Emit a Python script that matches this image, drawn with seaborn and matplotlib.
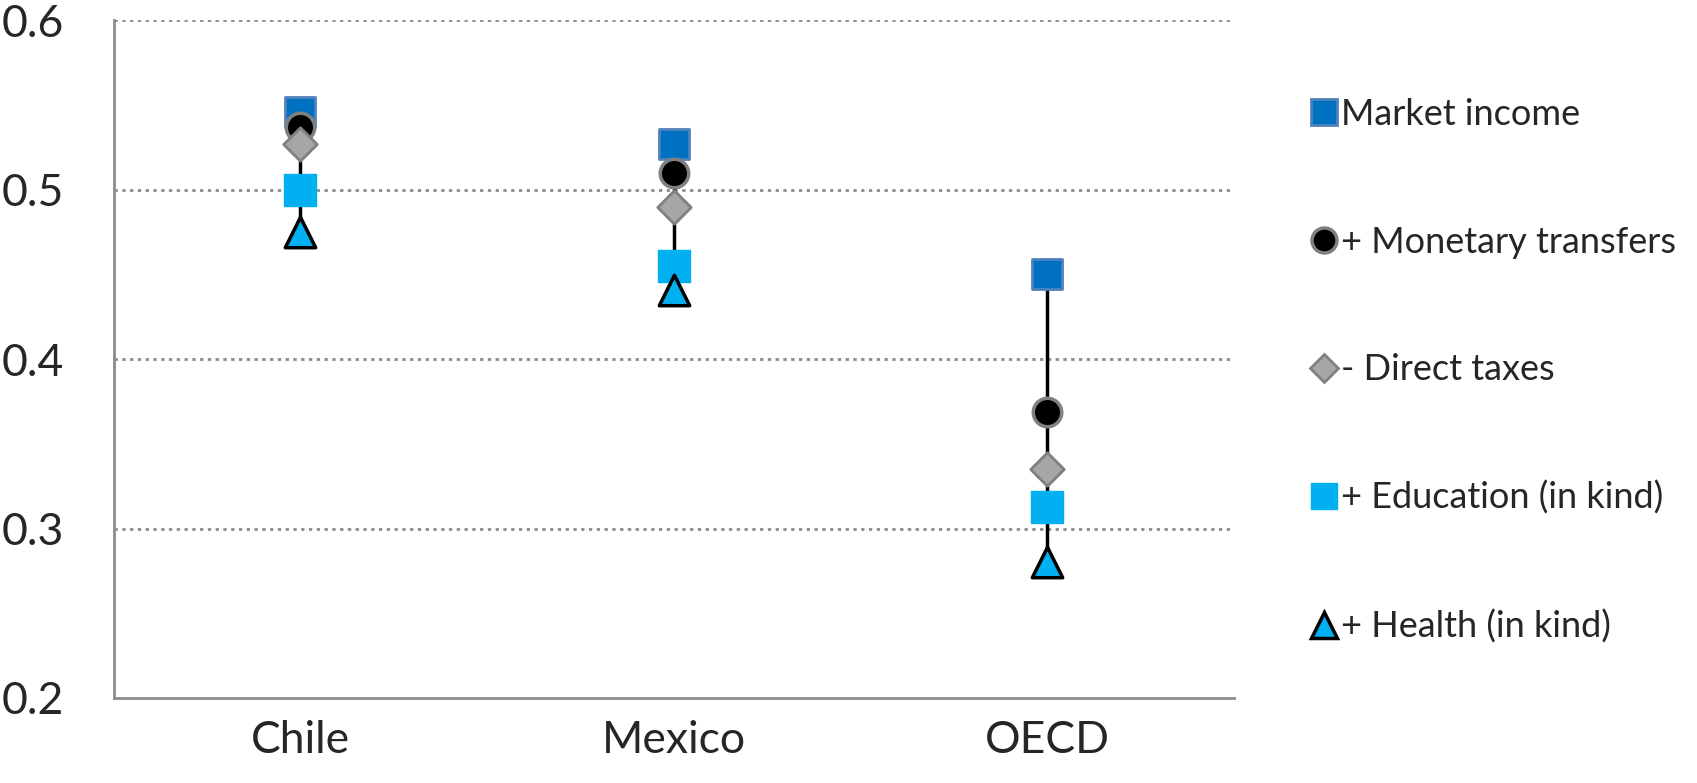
import numpy as np
import pandas as pd
import matplotlib
matplotlib.use("Agg")
import matplotlib.pyplot as plt
import seaborn as sns
from matplotlib.lines import Line2D

countries = ["Chile", "Mexico", "OECD"]
market_income = [0.546, 0.527, 0.450]
monetary_transfers = [0.537, 0.510, 0.369]
direct_taxes = [0.527, 0.490, 0.335]
education = [0.500, 0.455, 0.313]
health = [0.475, 0.441, 0.280]

series_labels = ["Market income", "+ Monetary transfers", "- Direct taxes",
                 "+ Education (in kind)", "+ Health (in kind)"]

sns.set_theme(style="white")
plt.rcParams["font.family"] = ["Lato", "DejaVu Sans"]

fig = plt.figure(figsize=(16.97, 7.83), dpi=100)
ax = fig.add_axes([0.067, 0.1086, 0.66, 0.8654])

df = pd.DataFrame({
    "country": countries,
    "market": market_income,
    "monetary": monetary_transfers,
    "taxes": direct_taxes,
    "education": education,
    "health": health,
})
df["x"] = np.arange(len(countries))
value_cols = ["market", "monetary", "taxes", "education", "health"]

# high-low range line per country
lo = df[value_cols].min(axis=1)
hi = df[value_cols].max(axis=1)
ax.vlines(df["x"], lo, hi, color="black", lw=2.5, zorder=2)

styles = {
    "market": dict(marker="s", s=480, color="#0070C0", edgecolor="#4F81BD", linewidth=2),
    "monetary": dict(marker="o", s=420, color="black", edgecolor="#808080", linewidth=2.5),
    "taxes": dict(marker="D", s=290, color="#A6A6A6", edgecolor="#808080", linewidth=2),
    "education": dict(marker="s", s=500, color="#00B0F0", edgecolor="#00B0F0", linewidth=1),
    "health": dict(marker="^", s=480, color="#00B0F0", edgecolor="black", linewidth=2.5),
}
for col in value_cols:
    sns.scatterplot(data=df, x="x", y=col, ax=ax, zorder=3, legend=False, **styles[col])

ax.set_xlim(-0.5, 2.5)
ax.set_ylim(0.2, 0.6)
ax.set_yticks([0.2, 0.3, 0.4, 0.5, 0.6])
ax.set_yticklabels(["0.2", "0.3", "0.4", "0.5", "0.6"], fontsize=32)
ax.set_xticks([-0.5, 0.5, 1.5, 2.5])
ax.set_xticklabels([])
ax.set_xticks([0, 1, 2], minor=True)
ax.set_xticklabels(countries, minor=True, fontsize=32)
ax.tick_params(axis="x", which="minor", length=0, pad=16)
ax.tick_params(axis="x", which="major", length=10, width=1.5, color="#8C8C8C", direction="out")
ax.tick_params(axis="y", length=10, width=1.5, color="#8C8C8C", direction="out", pad=26)
ax.set_xlabel("")
ax.set_ylabel("")

for y in [0.3, 0.4, 0.5, 0.6]:
    ax.axhline(y, color="#8C8C8C", lw=2, ls=(0, (1.2, 1.6)), zorder=1)

for side in ["top", "right"]:
    ax.spines[side].set_visible(False)
for side in ["left", "bottom"]:
    ax.spines[side].set_color("#8C8C8C")
    ax.spines[side].set_linewidth(2)

legend_sizes = {"market": 19, "monetary": 18, "taxes": 14, "education": 19, "health": 19}
handles = []
for col, label in zip(value_cols, series_labels):
    st = styles[col]
    handles.append(Line2D([], [], linestyle="none", marker=st["marker"],
                          markersize=legend_sizes[col],
                          markerfacecolor=st["color"], markeredgecolor=st["edgecolor"],
                          markeredgewidth=st["linewidth"], label=label))
fig.legend(handles=handles, loc="upper left", bbox_to_anchor=(0.76, 0.898),
           frameon=False, fontsize=26, labelspacing=2.62, handletextpad=0.02,
           handlelength=0.9, borderpad=0)

fig.savefig("out.png", dpi=100)
